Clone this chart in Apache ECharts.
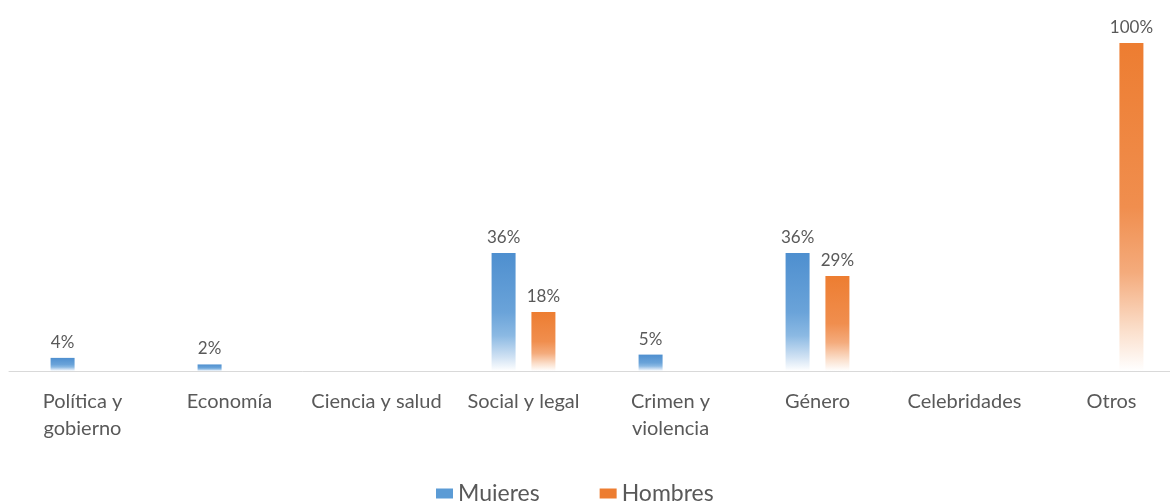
<!DOCTYPE html>
<html><head><meta charset="utf-8">
<script src="https://cdn.jsdelivr.net/npm/echarts@6/dist/echarts.min.js"></script>
<style>html,body{margin:0;padding:0;background:#fff;overflow:hidden;}#c{width:1186px;height:501px;}</style>
</head><body><div id="c"></div>
<script>
var categories = ['Política y\ngobierno','Economía','Ciencia y salud','Social y legal','Crimen y\nviolencia','Género','Celebridades','Otros'];
var mujeres = [4, 2, null, 36, 5, 36, null, null];
var hombres = [null, null, null, 18, null, 29, null, 100];
var seriesNames = ['Mujeres','Hombres'];

function grad(top, mid, light, low){
  return new echarts.graphic.LinearGradient(0,0,0,1,[
    {offset:0,color:top},{offset:0.5,color:mid},{offset:0.7,color:light},{offset:0.88,color:low},{offset:1,color:'#ffffff'}
  ]);
}
var font = 'Lato, "Noto Sans", sans-serif';
var chart = echarts.init(document.getElementById('c'));
chart.setOption({
  animation:false,
  grid:{left:9, top:43, right:1, height:328},
  legend:{data:[{name:seriesNames[0],itemStyle:{color:'#5b9bd5'}},{name:seriesNames[1],itemStyle:{color:'#ed7d31'}}],
    left:431, top:477, itemWidth:17, itemHeight:10, itemGap:60,
    icon:'rect', textStyle:{fontSize:23, color:'#595959', fontFamily:font}},
  xAxis:{type:'category', data:categories,
    axisLine:{lineStyle:{color:'#d9d9d9', width:1}}, axisTick:{show:false},
    axisLabel:{fontSize:20, color:'#595959', fontFamily:font, lineHeight:27, margin:17, interval:0}},
  yAxis:{type:'value', min:0, max:100, show:false, splitLine:{show:false}},
  series:[
    {name:seriesNames[0], type:'bar', data:mujeres, barWidth:24, barGap:'66%',
     itemStyle:{color:grad('#4e8fcf','#6aa3d9','#8bb9e3','#cfe1f3')},
     label:{show:true, position:'top', distance:7, formatter:'{c}%', fontSize:17, color:'#595959', fontFamily:font}},
    {name:seriesNames[1], type:'bar', data:hombres, barWidth:24,
     itemStyle:{color:grad('#ed7d31','#f08e4e','#f4ab7c','#fbe0cd')},
     label:{show:true, position:'top', distance:7, formatter:'{c}%', fontSize:17, color:'#595959', fontFamily:font}}
  ]
});
</script></body></html>
